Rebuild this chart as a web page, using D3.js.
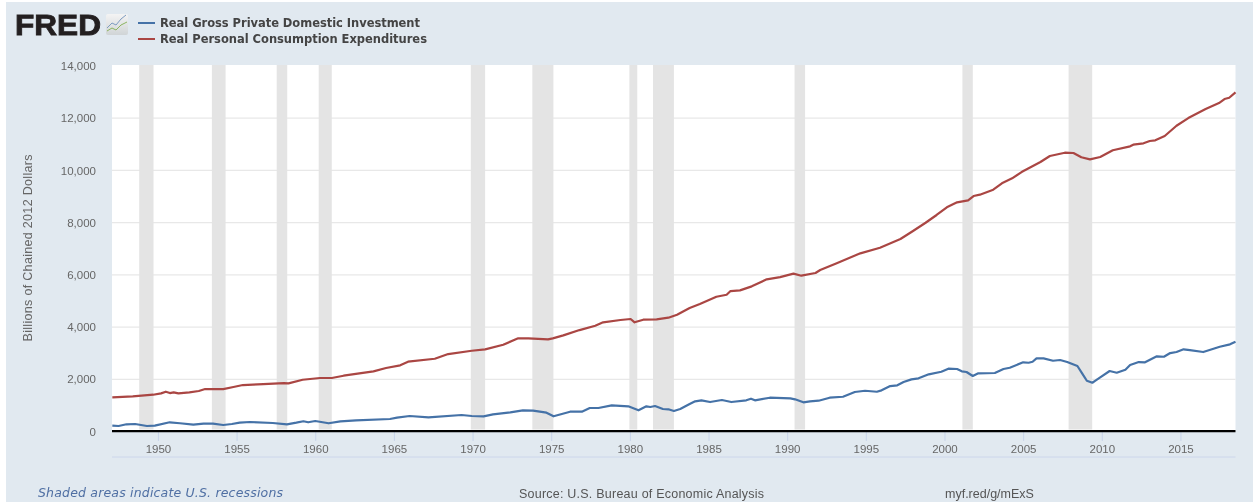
<!DOCTYPE html>
<html><head><meta charset="utf-8">
<script src="https://cdnjs.cloudflare.com/ajax/libs/d3/7.8.5/d3.min.js"></script>
<style>
html,body{margin:0;padding:0;background:#fff;overflow:hidden}
svg{display:block;filter:blur(0.55px)}
text{font-family:"Liberation Sans",Arial,sans-serif}
</style></head><body><svg id="c" width="1253" height="502"></svg>
<script>
const investmentNames="Real Gross Private Domestic Investment";
const consumptionNames="Real Personal Consumption Expenditures";
const yTicks=[0,2000,4000,6000,8000,10000,12000,14000];
const xTicks=[1950,1955,1960,1965,1970,1975,1980,1985,1990,1995,2000,2005,2010,2015];
const recessionStart=[1948.81,1953.43,1957.55,1960.22,1969.89,1973.8,1979.97,1981.47,1990.47,2001.14,2007.89];
const recessionEnd=[1949.72,1954.3,1958.22,1961.05,1970.8,1975.14,1980.47,1982.8,1991.14,2001.8,2009.39];
const consumptionYears=[1947.1,1948.4,1949.7,1950.2,1950.5,1950.76,1951,1951.3,1952,1952.6,1953,1954.15,1954.8,1955.4,1956.7,1958,1958.3,1959.2,1960.3,1961.05,1961.8,1963.7,1964.5,1965.4,1965.9,1967.6,1968.45,1969.95,1970.8,1971.95,1972.9,1973.55,1974.8,1975.1,1975.77,1976.8,1977.8,1978.3,1979.4,1980.05,1980.3,1980.85,1981.7,1982.45,1983,1983.8,1984.45,1985.5,1986.15,1986.4,1987,1987.75,1988.7,1989.55,1990.4,1990.9,1991.8,1992.1,1993.15,1994.65,1995.9,1997.2,1998,1998.8,1999.5,2000.15,2000.8,2001.5,2001.85,2002.25,2003.1,2003.65,2004.3,2004.9,2005.35,2006.1,2006.7,2007.65,2008.2,2008.7,2009.25,2009.9,2010.7,2011.8,2012,2012.65,2013.05,2013.4,2014,2014.75,2015.5,2016.6,2017.45,2017.8,2018.1,2018.5];
const consumptionValues=[1309,1347,1409,1461,1524,1473,1499,1461,1499,1550,1626,1626,1703,1780,1818,1856,1844,1982,2049,2049,2137,2305,2432,2535,2673,2787,2967,3094,3147,3323,3568,3568,3529,3568,3682,3885,4053,4183,4271,4309,4183,4282,4297,4359,4473,4730,4883,5162,5239,5380,5407,5560,5828,5915,6045,5968,6071,6186,6442,6825,7039,7372,7678,7995,8293,8587,8779,8855,9020,9071,9262,9506,9697,9938,10082,10323,10553,10679,10668,10503,10426,10514,10771,10924,10985,11038,11126,11153,11318,11712,12006,12353,12582,12735,12785,12991];
const investmentYears=[1947.1,1947.5,1948,1948.55,1949.3,1949.8,1950.75,1951.4,1952.25,1952.9,1953.5,1954.15,1954.7,1955.2,1955.85,1957.3,1958.2,1958.8,1959.25,1959.55,1960,1960.85,1961.6,1962.6,1964.75,1965.2,1966,1967.2,1969.3,1969.95,1970.7,1971.3,1972.4,1973.2,1973.85,1974.7,1975.15,1976.2,1976.95,1977.45,1978,1978.85,1979.9,1980.55,1981.05,1981.3,1981.6,1982.1,1982.45,1982.8,1983.2,1983.8,1984.15,1984.55,1985.1,1985.85,1986.45,1987.4,1987.7,1987.95,1988.9,1990.2,1990.5,1991.03,1991.45,1992,1992.7,1993.55,1994.3,1994.95,1995.7,1996,1996.55,1997,1997.4,1997.9,1998.35,1999,1999.8,2000.25,2000.8,2001.1,2001.4,2001.8,2002.15,2003.2,2003.75,2004.15,2005,2005.35,2005.6,2005.85,2006.3,2006.9,2007.35,2007.8,2008.45,2008.75,2009.05,2009.4,2009.55,2009.9,2010.5,2010.95,2011.5,2011.8,2012.35,2012.75,2013.5,2013.95,2014.35,2014.75,2015.2,2015.6,2016.45,2017.5,2018.15,2018.5];
const investmentValues=[223,211,276,288,211,223,353,315,261,299,299,250,288,337,364,326,276,337,391,353,403,315,391,429,479,529,594,544,632,594,582,658,735,812,797,720,582,758,758,900,900,1003,965,812,965,938,976,861,850,785,861,1053,1156,1194,1129,1206,1129,1194,1256,1194,1294,1271,1232,1118,1156,1179,1294,1332,1512,1561,1523,1577,1741,1768,1894,1997,2038,2191,2290,2405,2394,2305,2279,2126,2229,2240,2394,2443,2650,2634,2673,2803,2803,2711,2738,2661,2508,2229,1944,1867,1932,2076,2317,2252,2367,2546,2661,2650,2879,2864,3005,3044,3147,3120,3044,3247,3338,3438];

const svg=d3.select("#c");
const x=d3.scaleLinear().domain([1947.08,2018.5]).range([112,1235.5]);
const y=d3.scaleLinear().domain([0,14000]).range([431.5,66]);
const plotTop=65;

svg.append("rect").attr("x",6).attr("y",2).attr("width",1247).attr("height",500).attr("fill","#e1e9f0");
svg.append("rect").attr("x",x.range()[0]).attr("y",plotTop).attr("width",x.range()[1]-x.range()[0]).attr("height",y(0)-plotTop).attr("fill","#fff");

// grid under the recession bands
svg.append("g").selectAll("line").data(yTicks.filter(d=>d>0&&d<14000)).join("line")
 .attr("x1",x.range()[0]).attr("x2",x.range()[1]).attr("y1",d=>y(d)).attr("y2",d=>y(d))
 .attr("stroke","#e8e8e8").attr("stroke-width",1.2);

// recessions
svg.append("g").selectAll("rect").data(recessionStart).join("rect")
 .attr("x",d=>x(d)).attr("width",(d,i)=>x(recessionEnd[i])-x(d))
 .attr("y",plotTop).attr("height",y(0)-plotTop-2).attr("fill","#e4e4e4");

// y axis
const yA=svg.append("g").attr("transform","translate(112,0)")
 .call(d3.axisLeft(y).tickValues(yTicks).tickSize(0).tickPadding(16).tickFormat(d3.format(",")));
yA.select(".domain").remove();
yA.selectAll("text").attr("fill","#666").style("font-size","11.5px");

// x axis
svg.append("line").attr("x1",112).attr("x2",1235.5).attr("y1",457).attr("y2",457).attr("stroke","#ccd6eb");
const xA=svg.append("g").attr("transform","translate(0,431)")
 .call(d3.axisBottom(x).tickValues(xTicks).tickSize(10).tickPadding(3.5).tickFormat(d3.format("d")));
xA.select(".domain").remove();
xA.selectAll("line").attr("stroke","#c8d4ea");
xA.selectAll("text").attr("fill","#666").style("font-size","11.5px");
svg.append("line").attr("x1",112).attr("x2",1235.5).attr("y1",431.2).attr("y2",431.2).attr("stroke","#000").attr("stroke-width",2.2);

// series
const line=(ys,vs)=>d3.line().x((d,i)=>x(ys[i])).y(d=>y(d))(vs);
svg.append("path").attr("d",line(investmentYears,investmentValues)).attr("fill","none").attr("stroke","#4572a7").attr("stroke-width",2.2).attr("stroke-linejoin","round");
svg.append("path").attr("d",line(consumptionYears,consumptionValues)).attr("fill","none").attr("stroke","#aa4643").attr("stroke-width",2.2).attr("stroke-linejoin","round");

// y title
svg.append("text").attr("transform","translate(32,248) rotate(-90)").attr("text-anchor","middle")
 .attr("fill","#666").style("font-size","12.5px").attr("textLength",187).text("Billions of Chained 2012 Dollars");

// legend
const legend=svg.append("g");
[[investmentNames,"#4572a7",23],[consumptionNames,"#aa4643",39]].forEach(([t,c,ly])=>{
 legend.append("line").attr("x1",138).attr("x2",155).attr("y1",ly).attr("y2",ly).attr("stroke",c).attr("stroke-width",2);
 legend.append("text").attr("x",160).attr("y",ly+4).attr("fill","#444").style("font-family","'DejaVu Sans'").style("font-weight","bold").style("font-size","11.5px").attr("textLength",t===investmentNames?260:267).text(t);
});

// logo
svg.append("text").attr("x",15).attr("y",35).attr("fill","#231f20").attr("stroke","#231f20").attr("stroke-width",0.9)
 .style("font-weight","bold").style("font-size","30px").attr("textLength",86).attr("lengthAdjust","spacingAndGlyphs").text("FRED");
const defs=svg.append("defs");
const g=defs.append("linearGradient").attr("id","ic").attr("x1",0).attr("y1",0).attr("x2",0).attr("y2",1);
g.append("stop").attr("offset",0).attr("stop-color","#f4f4f4");g.append("stop").attr("offset",1).attr("stop-color","#d0d4d6");
svg.append("rect").attr("x",106).attr("y",14).attr("width",22).attr("height",21).attr("rx",2).attr("fill","url(#ic)");
svg.append("path").attr("d","M107 28L112 23L116 25L121 19L126 15").attr("fill","none").attr("stroke","#7d9cc0").attr("stroke-width",1);
svg.append("path").attr("d","M107 31L112 28L116 30L121 25L127 22").attr("fill","none").attr("stroke","#8cb560").attr("stroke-width",1);

// footer
svg.append("text").attr("x",38).attr("y",497).attr("fill","#4f6fa3").style("font-family","'DejaVu Sans'").style("font-style","italic").style("font-size","12.5px").attr("textLength",245).text("Shaded areas indicate U.S. recessions");
svg.append("text").attr("x",519).attr("y",498).attr("fill","#555").style("font-size","12.5px").attr("textLength",245).text("Source: U.S. Bureau of Economic Analysis");
defs.append("clipPath").attr("id","cl").append("rect").attr("x",940).attr("y",480).attr("width",95).attr("height",22);
svg.append("text").attr("x",945).attr("y",498).attr("fill","#555").attr("clip-path","url(#cl)").style("font-size","12.5px").text("myf.red/g/mExS");
</script></body></html>
